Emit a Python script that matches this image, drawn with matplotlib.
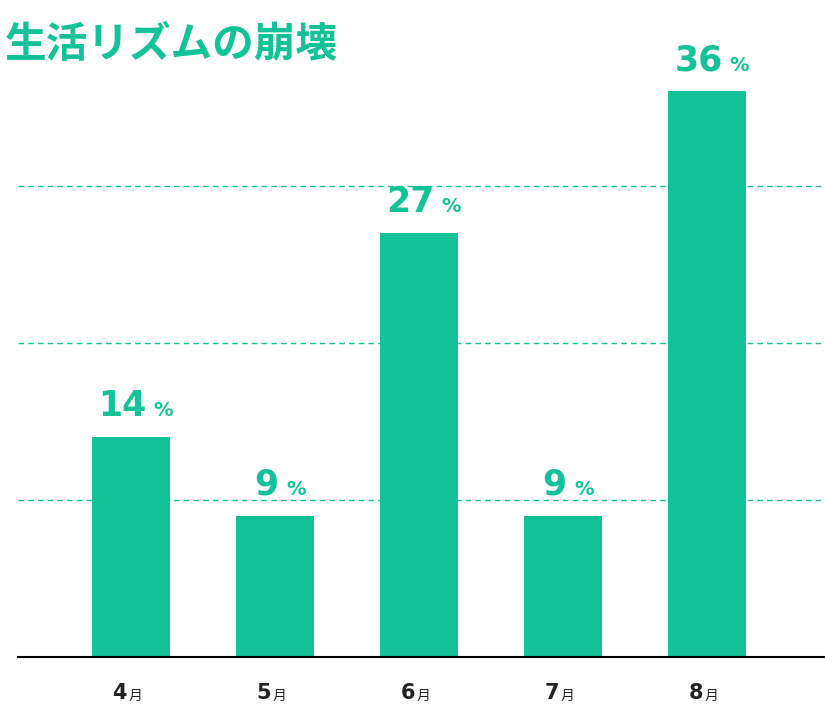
import matplotlib
matplotlib.use("Agg")
import matplotlib.pyplot as plt

months = ["4", "5", "6", "7", "8"]
values = [14, 9, 27, 9, 36]
gridlines = [10, 20, 30]
title = "生活リズムの崩壊"
green = "#13c296"
jp = "Noto Sans CJK JP"

fig = plt.figure(figsize=(8.25, 7.18), dpi=100)
ax = fig.add_axes([18/825, 1-657/718, 1-18/825, (657-60)/718])
x = list(range(len(values)))
ax.bar(x, values, width=0.54, color=green, zorder=2)
for g in gridlines:
    ax.axhline(g, color=green, lw=1, ls=(0, (4, 3)), zorder=1)
ax.set_xlim(-0.785, 4.82)
ax.set_ylim(0, 38.0)
for s in ["top", "right", "left"]:
    ax.spines[s].set_visible(False)
ax.spines["bottom"].set_linewidth(1.5)
ax.set_yticks([])
ax.set_xticks([])
for xi, v in zip(x, values):
    t = ax.annotate(str(v), (xi, v), xytext=(-6, 10), textcoords="offset points",
                    ha="center", va="bottom", fontsize=25, fontweight="bold",
                    color=green, family="DejaVu Sans")
    ax.annotate("%", (xi, v), xytext=(8 + 8 * (len(str(v)) - 1), 12), textcoords="offset points",
                ha="left", va="bottom", fontsize=14, fontweight="bold",
                color=green, family="DejaVu Sans")
    ax.annotate(months[xi], (xi, 0), xytext=(-3, -26), textcoords="offset points",
                ha="right", va="center", fontsize=15, fontweight="bold", color="#222222",
                family="DejaVu Sans")
    ax.annotate("月", (xi, 0), xytext=(-2, -28), textcoords="offset points",
                ha="left", va="center", fontsize=10, color="#222222", family=jp)
fig.text(5/825, 1-45/718, title, fontsize=30, fontweight="bold", color=green,
         family=jp, ha="left", va="center")
fig.savefig("out.png", dpi=100)
